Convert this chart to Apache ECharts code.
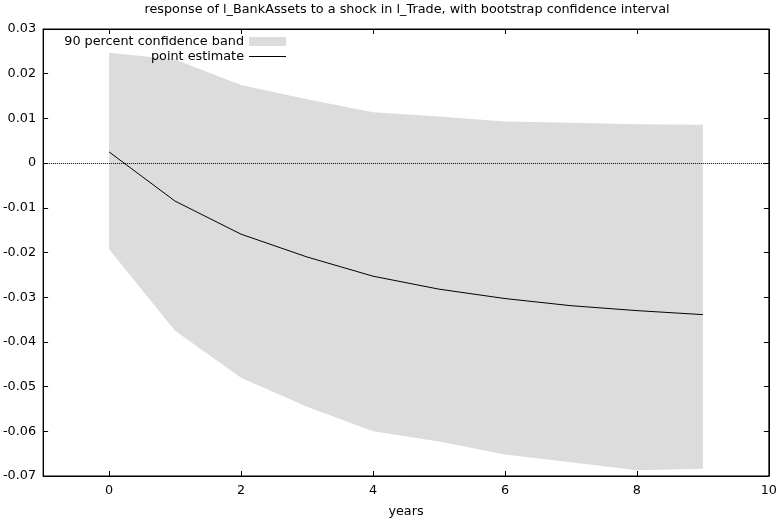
<!DOCTYPE html>
<html>
<head>
<meta charset="utf-8">
<script src="https://cdn.jsdelivr.net/npm/echarts@6/dist/echarts.min.js"></script>
<style>html,body{margin:0;padding:0;background:#fff}#c{width:780px;height:523px}</style>
</head>
<body>
<div id="c"></div>
<script>
var years = [0, 1, 2, 3, 4, 5, 6, 7, 8, 9];
var pointEstimate = [0.0025, -0.0085, -0.0159, -0.0210, -0.0253, -0.0282, -0.0303, -0.0319, -0.0330, -0.0339];
var bandLower = [-0.0193, -0.0375, -0.0480, -0.0545, -0.0600, -0.0623, -0.0652, -0.0669, -0.0687, -0.0684];
var bandUpper = [0.0247, 0.0232, 0.0175, 0.0143, 0.0114, 0.0104, 0.0093, 0.0090, 0.0087, 0.0086];
var xTicks = [0, 2, 4, 6, 8, 10];
var titleText = 'response of l_BankAssets to a shock in l_Trade, with bootstrap confidence interval';

var FONT = 'DejaVu Sans';
var FS = 12.8;
var chart = echarts.init(document.getElementById('c'), null, {renderer: 'canvas'});

var bandData = years.map(function (x, i) { return [x, bandLower[i], bandUpper[i]]; });
var lineData = years.map(function (x, i) { return [x, pointEstimate[i]]; });

function yFmt(v) {
  if (Math.abs(v) < 1e-9) return '0';
  return v.toFixed(2);
}

function renderBand(params, api) {
  if (params.dataIndex !== 0) return null;
  var top = [], bottom = [];
  for (var i = 0; i < bandData.length; i++) {
    top.push(api.coord([bandData[i][0], bandData[i][2]]));
    bottom.push(api.coord([bandData[i][0], bandData[i][1]]));
  }
  var pts = top.concat(bottom.reverse());
  return {
    type: 'polygon',
    shape: {points: pts},
    style: {fill: '#dcdcdc', stroke: 'none'},
    silent: true
  };
}

var tickStyle = {show: true, inside: true, length: 5, lineStyle: {color: '#000', width: 1}};

chart.setOption({
  animation: false,
  backgroundColor: '#fff',
  textStyle: {fontFamily: FONT},
  title: {
    text: titleText,
    left: 407,
    textAlign: 'center',
    top: 3,
    padding: 0,
    textStyle: {fontFamily: FONT, fontSize: FS, fontWeight: 'normal', color: '#000'}
  },
  grid: {left: 42, right: 8, top: 29, bottom: 47, show: true, borderColor: '#000', borderWidth: 1, backgroundColor: 'transparent'},
  legend: [
    {
      data: [{name: '90 percent confidence band', icon: 'rect', itemStyle: {color: '#dcdcdc'}}],
      orient: 'vertical',
      align: 'right',
      right: 489,
      top: 30,
      itemWidth: 37,
      itemHeight: 9,
      selectedMode: false,
      textStyle: {fontFamily: FONT, fontSize: FS, color: '#000'}
    },
    {
      data: [{name: 'point estimate', icon: 'rect'}],
      orient: 'vertical',
      align: 'right',
      right: 489,
      top: 45,
      itemWidth: 37,
      itemHeight: 1,
      selectedMode: false,
      textStyle: {fontFamily: FONT, fontSize: FS, color: '#000'}
    }
  ],
  xAxis: [
    {
      type: 'value', min: -1, max: 10, position: 'bottom',
      name: 'years', nameLocation: 'middle', nameGap: 29,
      nameTextStyle: {fontFamily: FONT, fontSize: FS, color: '#000'},
      axisLine: {show: true, onZero: false, lineStyle: {color: '#000', width: 1}},
      axisTick: Object.assign({customValues: xTicks}, tickStyle),
      axisLabel: {customValues: xTicks, margin: 8, fontFamily: FONT, fontSize: FS, color: '#000'},
      splitLine: {show: false}
    },
    {
      type: 'value', min: -1, max: 10, position: 'top',
      axisLine: {show: true, onZero: false, lineStyle: {color: '#000', width: 1}},
      axisTick: Object.assign({customValues: xTicks}, tickStyle),
      axisLabel: {show: false},
      splitLine: {show: false}
    }
  ],
  yAxis: [
    {
      type: 'value', min: -0.07, max: 0.03, interval: 0.01, position: 'left',
      axisLine: {show: true, onZero: false, lineStyle: {color: '#000', width: 1}},
      axisTick: tickStyle,
      axisLabel: {formatter: yFmt, margin: 7, fontFamily: FONT, fontSize: FS, color: '#000'},
      splitLine: {show: false}
    },
    {
      type: 'value', min: -0.07, max: 0.03, interval: 0.01, position: 'right',
      axisLine: {show: true, onZero: false, lineStyle: {color: '#000', width: 1}},
      axisTick: tickStyle,
      axisLabel: {show: false},
      splitLine: {show: false}
    }
  ],
  series: [
    {
      name: '90 percent confidence band',
      type: 'custom',
      renderItem: renderBand,
      data: bandData,
      encode: {x: 0, y: [1, 2]},
      color: '#dcdcdc',
      silent: true,
      clip: true,
      z: 1
    },
    {
      name: 'point estimate',
      type: 'line',
      data: lineData,
      symbol: 'none',
      color: '#000',
      lineStyle: {color: '#000', width: 1},
      z: 3,
      markLine: {
        silent: true,
        symbol: ['none', 'none'],
        label: {show: false},
        lineStyle: {color: '#000', type: [1, 1], width: 1},
        data: [{yAxis: 0}]
      }
    }
  ]
});
</script>
</body>
</html>
